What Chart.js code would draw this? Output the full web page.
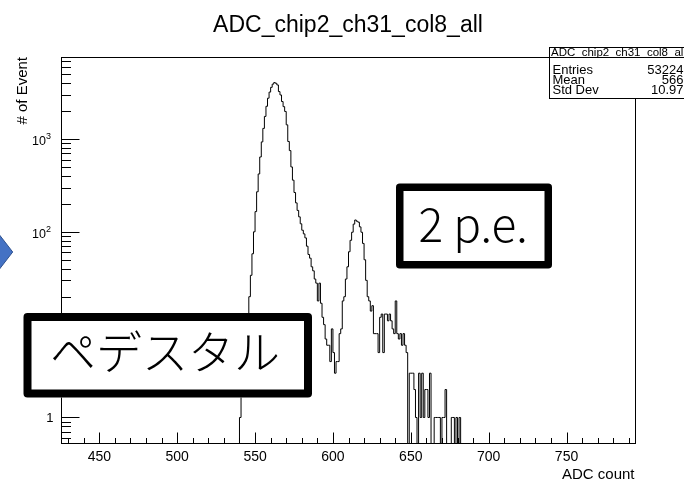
<!DOCTYPE html>
<html>
<head>
<meta charset="utf-8">
<script src="https://cdn.jsdelivr.net/npm/chart.js@4.4.1/dist/chart.umd.min.js"></script>
<style>
  html, body { margin: 0; padding: 0; background: #ffffff; }
  #wrap { position: relative; width: 684px; height: 479px; overflow: hidden; }
</style>
</head>
<body>
<div id="wrap"><canvas id="adcChart" width="684" height="479"></canvas></div>
<script>
// histogram: one count per 1-ADC bin, first bin starts at BIN_LOW
const BIN_LOW = 539;
const BIN_WIDTH = 1;
const adcCounts = [
  0, 1, 2, 3, 5, 8, 13, 20, 34, 58,                 // 539-548
  100, 165, 270, 420, 640, 930, 1300, 1750, 2250, 2750, // 549-558
  3200, 3600, 3900, 4050, 3980, 3820, 3240, 2980, 2530, 2230, // 559-568
  1980, 1420, 940, 750, 500, 360, 265, 205, 170, 145, // 569-578
  122, 104, 95, 86, 70, 57, 52, 42, 38, 31,          // 579-588
  28, 18, 28, 17, 12, 10, 7, 6, 6, 4,                // 589-598
  9, 5, 3, 4, 4, 8, 9, 18, 20, 31,                   // 599-608
  42, 61, 81, 99, 121, 134, 130, 127, 113, 99,       // 609-618
  75, 50, 30, 20, 18, 14, 16, 8, 8, 8,               // 619-628
  5, 12, 13, 5, 13, 13, 11, 13, 11, 9,               // 629-638
  8, 18, 8, 7, 8, 6, 8, 6, 5, 0,                     // 639-648
  3, 3, 3, 2, 1, 0, 3, 1, 3, 1,                      // 649-658
  2, 2, 1, 3, 0, 0, 1, 1, 1, 1,                      // 659-668
  0, 1, 1, 2, 0, 0, 0, 1, 1, 0,                      // 669-678
  1, 0, 1, 0, 0                                      // 679-683
];

const xRange = [425.4, 794.6];
const yRange = [0.518, 7640];
const xMajorTicks = [450, 500, 550, 600, 650, 700, 750];
const xMinorTicks = [430, 440, 460, 470, 480, 490, 510, 520, 530, 540, 560, 570, 580, 590,
  610, 620, 630, 640, 660, 670, 680, 690, 710, 720, 730, 740, 760, 770, 780, 790];
const yDecades = [0.1, 1, 10, 100, 1000];
const yLabelled = [1, 100, 1000];

const histTitle = "ADC_chip2_ch31_col8_all";
const xTitle = "ADC count";
const yTitle = "# of Event";
const statsLabels = ["Entries", "Mean", "Std Dev"];
const statsValues = ["53224", "566", "10.97"];
const noteTwoPe = "2 p.e.";
const notePedestal = "ペデスタル";

const ROOT_FONT = "\"Liberation Sans\", Arial, sans-serif";
const NOTE_FONT = "\"Noto Sans CJK JP\", \"Noto Sans\", sans-serif";
// empty bins sit below the log axis so the outline drops to the frame
const EMPTY_BIN_LEVEL = 0.1;

function histPoints() {
  const pts = adcCounts.map((c, i) => ({
    x: BIN_LOW + i * BIN_WIDTH,
    y: c > 0 ? c : EMPTY_BIN_LEVEL
  }));
  pts.push({ x: BIN_LOW + adcCounts.length * BIN_WIDTH, y: EMPTY_BIN_LEVEL });
  return pts;
}

function line(ctx, x1, y1, x2, y2) {
  ctx.beginPath();
  ctx.moveTo(x1, y1);
  ctx.lineTo(x2, y2);
  ctx.stroke();
}

function noteBox(ctx, left, top, right, bottom, lw) {
  const h = lw / 2;
  ctx.save();
  ctx.fillStyle = "#ffffff";
  ctx.fillRect(left, top, right - left, bottom - top);
  ctx.strokeStyle = "#000000";
  ctx.lineWidth = lw;
  ctx.lineJoin = "round";
  ctx.strokeRect(left + h, top + h, right - left - lw, bottom - top - lw);
  ctx.restore();
}

Chart.register({
  id: "rootFrame",
  beforeDatasetsDraw(chart) {
    const ctx = chart.ctx;
    const xs = chart.scales.x;
    const ys = chart.scales.y;
    const a = chart.chartArea;
    const L = Math.round(a.left) + 0.5;
    const R = Math.round(a.right) - 0.5;
    const T = Math.round(a.top) + 0.5;
    const B = Math.round(a.bottom) - 0.5;

    ctx.save();
    ctx.strokeStyle = "#000000";
    ctx.lineWidth = 1;
    ctx.strokeRect(L, T, R - L, B - T);

    // x ticks point inward
    xMajorTicks.forEach((v) => {
      const px = Math.round(xs.getPixelForValue(v)) + 0.5;
      line(ctx, px, B, px, B - 11);
    });
    xMinorTicks.forEach((v) => {
      const px = Math.round(xs.getPixelForValue(v)) + 0.5;
      line(ctx, px, B, px, B - 5.5);
    });

    // log y ticks
    yDecades.forEach((d) => {
      for (let m = 1; m <= 9; m++) {
        const v = m * d;
        if (v < yRange[0] || v > yRange[1]) continue;
        const py = Math.round(ys.getPixelForValue(v)) + 0.5;
        line(ctx, L, py, L + (m === 1 ? 18 : 9.5), py);
      }
    });

    ctx.fillStyle = "#000000";
    ctx.font = `14px ${ROOT_FONT}`;
    ctx.textAlign = "center";
    ctx.textBaseline = "middle";
    xMajorTicks.forEach((v) => {
      ctx.fillText(String(v), xs.getPixelForValue(v), 457);
    });

    yLabelled.forEach((v) => {
      const py = ys.getPixelForValue(v);
      if (v === 1) {
        ctx.font = `13px ${ROOT_FONT}`;
        ctx.textAlign = "right";
        ctx.fillText("1", 53.5, py + 0.5);
      } else {
        ctx.font = `12.5px ${ROOT_FONT}`;
        ctx.textAlign = "right";
        ctx.fillText("10", 46, py + 2.5);
        ctx.font = `9px ${ROOT_FONT}`;
        ctx.textAlign = "left";
        ctx.fillText(String(Math.round(Math.log10(v))), 46, py - 2);
      }
    });

    // axis titles and histogram title
    ctx.font = `15px ${ROOT_FONT}`;
    ctx.textAlign = "right";
    ctx.textBaseline = "alphabetic";
    ctx.fillText(xTitle, 634.5, 478.5);

    ctx.save();
    ctx.translate(26.5, 57);
    ctx.rotate(-Math.PI / 2);
    ctx.textAlign = "right";
    ctx.fillText(yTitle, 0, 0);
    ctx.restore();

    ctx.font = `23px ${ROOT_FONT}`;
    ctx.textAlign = "center";
    ctx.fillText(histTitle, 348, 31.5);
    ctx.restore();
  },
  afterDraw(chart) {
    const ctx = chart.ctx;
    ctx.save();

    // stats box (runs off the right edge like the original)
    ctx.fillStyle = "#ffffff";
    ctx.fillRect(549, 47, 150, 51);
    ctx.strokeStyle = "#000000";
    ctx.lineWidth = 1;
    ctx.strokeRect(549.5, 47.5, 150, 51);
    line(ctx, 549.5, 57.5, 684, 57.5);
    ctx.fillStyle = "#000000";
    ctx.font = `11.5px ${ROOT_FONT}`;
    ctx.textAlign = "left";
    ctx.textBaseline = "middle";
    ctx.fillText(histTitle, 551, 52.5);
    ctx.font = `13px ${ROOT_FONT}`;
    const rowY = [70, 80.5, 90.5];
    statsLabels.forEach((lab, i) => {
      ctx.textAlign = "left";
      ctx.fillText(lab, 552.5, rowY[i]);
      ctx.textAlign = "right";
      ctx.fillText(statsValues[i], 683.5, rowY[i]);
    });

    // annotation boxes
    noteBox(ctx, 396, 183.5, 552, 268.5, 7.5);
    noteBox(ctx, 23.5, 313, 312, 397.5, 8);
    ctx.fillStyle = "#000000";
    ctx.font = `300 46px ${NOTE_FONT}`;
    ctx.textAlign = "center";
    ctx.textBaseline = "alphabetic";
    ctx.fillText(noteTwoPe, 473, 241.5);
    ctx.fillText(notePedestal, 165, 368.5);

    // blue arrow tip peeking in from the left edge
    ctx.beginPath();
    ctx.moveTo(-2, 233);
    ctx.lineTo(12.7, 252);
    ctx.lineTo(-2, 271);
    ctx.closePath();
    ctx.fillStyle = "#4472c4";
    ctx.fill();
    ctx.strokeStyle = "#2f528f";
    ctx.lineWidth = 1;
    ctx.stroke();
    ctx.restore();
  }
});

new Chart(document.getElementById("adcChart"), {
  type: "line",
  data: {
    datasets: [{
      label: histTitle,
      data: histPoints(),
      stepped: "before",
      borderColor: "#000000",
      borderWidth: 1,
      pointRadius: 0,
      fill: false,
      tension: 0
    }]
  },
  options: {
    responsive: false,
    animation: false,
    devicePixelRatio: 1,
    layout: { padding: { left: 61, top: 57, right: 48, bottom: 35 } },
    plugins: {
      legend: { display: false },
      title: { display: false },
      tooltip: { enabled: false }
    },
    scales: {
      x: { type: "linear", min: xRange[0], max: xRange[1], display: false },
      y: { type: "logarithmic", min: yRange[0], max: yRange[1], display: false }
    }
  }
});
</script>
</body>
</html>
